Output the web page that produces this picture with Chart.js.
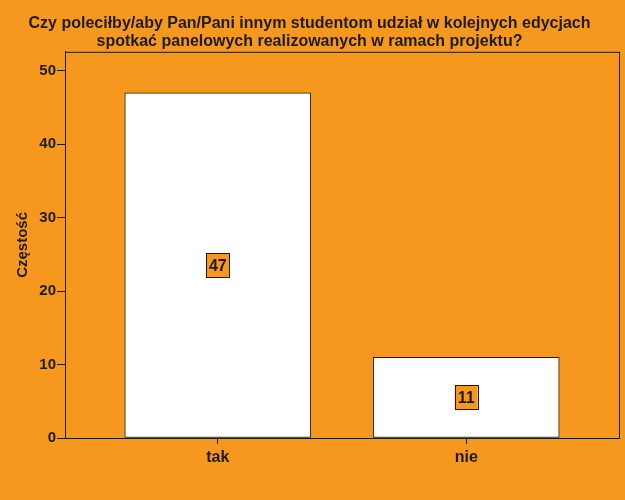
<!DOCTYPE html>
<html>
<head>
<meta charset="utf-8">
<script src="https://cdn.jsdelivr.net/npm/chart.js@4"></script>
<style>
  html, body { margin: 0; padding: 0; background: #f7981e; }
  #wrap { width: 625px; height: 500px; }
</style>
</head>
<body>
<div id="wrap"><canvas id="chart"></canvas></div>
<script>
var categories = ["tak", "nie"];
var counts = [47, 11];
var y_ticks = [0, 10, 20, 30, 40, 50];
var title_lines = [
  "Czy poleciłby/aby Pan/Pani innym studentom udział w kolejnych edycjach",
  "spotkać panelowych realizowanych w ramach projektu?",
];

var orange = "#f7981e";
var ink = "#1e1a14";
var font_family = "'Liberation Sans', Arial, sans-serif";

// frame around the plot area
const framePlugin = {
  id: "frame",
  afterDraw(chart) {
    const a = chart.chartArea;
    const c = chart.ctx;
    c.save();
    c.strokeStyle = ink;
    c.lineWidth = 1;
    c.strokeRect(a.left + 0.5, a.top + 0.5, a.right - a.left, a.bottom - a.top);
    c.restore();
  },
};

// value boxes in the middle of each bar
const valueBoxPlugin = {
  id: "valueBox",
  afterDatasetsDraw(chart) {
    const c = chart.ctx;
    const meta = chart.getDatasetMeta(0);
    c.save();
    c.font = "bold 16px " + font_family;
    c.textAlign = "center";
    c.textBaseline = "middle";
    meta.data.forEach(function (bar, i) {
      const props = bar.getProps(["x", "y", "base"], true);
      const cy = (props.y + props.base) / 2;
      const w = 23, h = 24;
      c.fillStyle = orange;
      c.fillRect(props.x - w / 2, cy - h / 2, w, h);
      c.strokeStyle = ink;
      c.lineWidth = 1;
      c.strokeRect(Math.round(props.x - w / 2) + 0.5, Math.round(cy - h / 2) + 0.5, w, h);
      c.fillStyle = ink;
      c.fillText(String(counts[i]), props.x, cy + 1);
    });
    c.restore();
  },
};

const ctx = document.getElementById("chart");

const chart = new Chart(ctx, {
  type: "bar",
  data: {
    datasets: [
      {
        label: "Częstość",
        data: categories.map(function (c, i) {
          return { x: i + 1, y: counts[i] };
        }),
        backgroundColor: "#ffffff",
        borderColor: ink,
        borderWidth: 1,
        borderSkipped: false,
        barThickness: 186,
      },
    ],
  },
  options: {
    responsive: true,
    maintainAspectRatio: false,
    devicePixelRatio: 1,
    animation: false,
    layout: {
      padding: { right: 6 },
    },
    plugins: {
      legend: { display: false },
      tooltip: { enabled: false },
      title: {
        display: true,
        text: title_lines,
        color: ink,
        font: { family: font_family, size: 16, weight: "bold", lineHeight: 1.15 },
        padding: { top: 14, bottom: 1 },
      },
    },
    scales: {
      x: {
        type: "linear",
        offset: false,
        min: 0.385,
        max: 2.615,
        afterBuildTicks: function (axis) {
          axis.ticks = categories.map(function (c, i) {
            return { value: i + 1 };
          });
        },
        afterFit: function (axis) {
          axis.height = 62;
        },
        ticks: {
          color: ink,
          padding: 4,
          font: { family: font_family, size: 16, weight: "bold" },
          callback: function (value) {
            return categories[value - 1];
          },
        },
        grid: {
          offset: false,
          drawOnChartArea: false,
          tickLength: 6,
          color: ink,
        },
        border: { display: true, color: ink },
      },
      y: {
        min: 0,
        max: 52.6,
        afterBuildTicks: function (axis) {
          axis.ticks = y_ticks.map(function (v) {
            return { value: v };
          });
        },
        afterFit: function (axis) {
          axis.width = 65;
        },
        ticks: {
          color: ink,
          padding: 1,
          font: { family: font_family, size: 15, weight: "bold" },
        },
        grid: {
          drawOnChartArea: false,
          tickLength: 8,
          color: ink,
        },
        border: { display: true, color: ink },
        title: {
          display: true,
          text: "Częstość",
          color: ink,
          font: { family: font_family, size: 15, weight: "bold" },
          padding: { top: 14 },
        },
      },
    },
  },
  plugins: [framePlugin, valueBoxPlugin],
});
</script>
</body>
</html>
